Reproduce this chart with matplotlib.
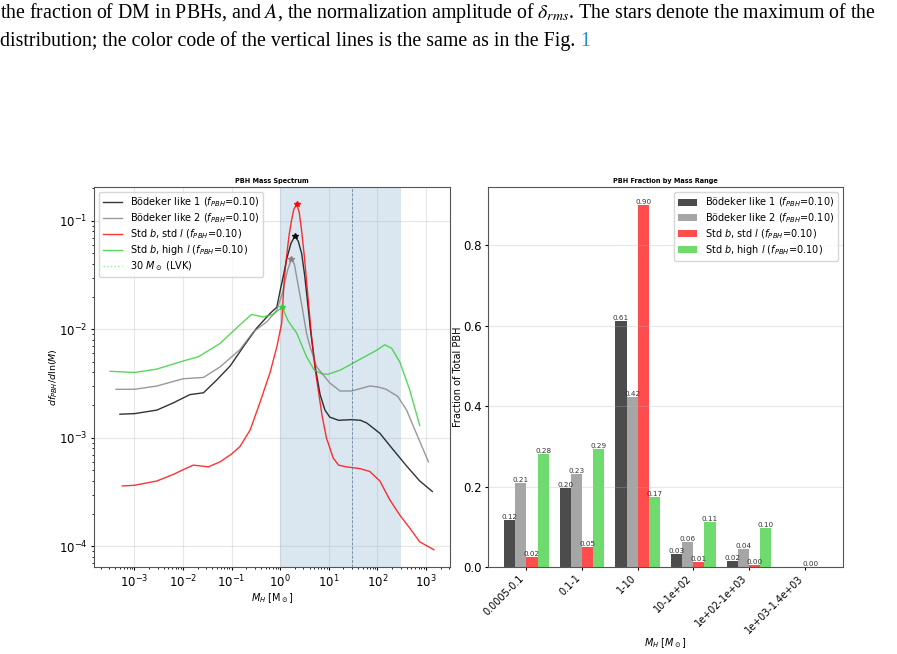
import numpy as np
import matplotlib
matplotlib.use("Agg")
import matplotlib.pyplot as plt
from matplotlib.lines import Line2D

# ---- left panel: mass spectra (log10 M, df/dlnM) ----
b1_logm = [-3.30, -3.0, -2.54, -2.2, -1.86, -1.58, -1.31, -1.03, -0.76, -0.49, -0.21, -0.07, 0.0, 0.07, 0.13, 0.22, 0.30,
           0.37, 0.44, 0.50, 0.55, 0.62, 0.72, 0.82, 0.92, 1.02, 1.2, 1.47, 1.65, 1.78, 2.05, 2.32, 2.6, 2.87, 3.13]
b1_val = [1.65e-3, 1.67e-3, 1.8e-3, 2.1e-3, 2.5e-3, 2.6e-3, 3.4e-3, 4.6e-3, 6.9e-3, 1.02e-2, 1.4e-2, 1.6e-2, 2.3e-2, 3.2e-2, 4.4e-2, 6.2e-2, 7.2e-2,
          6.5e-2, 5.0e-2, 3.2e-2, 2.0e-2, 1.0e-2, 4.5e-3, 2.5e-3, 1.8e-3, 1.55e-3, 1.45e-3, 1.47e-3, 1.45e-3, 1.37e-3, 1.1e-3, 7.8e-4, 5.5e-4, 4.0e-4, 3.2e-4]

b2_logm = [-3.38, -3.0, -2.54, -2.0, -1.58, -1.24, -0.83, -0.55, -0.27, -0.07, 0.05, 0.15, 0.226,
           0.29, 0.34, 0.45, 0.54, 0.61, 0.75, 1.02, 1.23, 1.47, 1.84, 2.0, 2.18, 2.42, 2.6, 2.8, 3.05]
b2_val = [2.8e-3, 2.8e-3, 3.0e-3, 3.5e-3, 3.6e-3, 4.5e-3, 6.5e-3, 9.5e-3, 1.18e-2, 1.5e-2, 2.2e-2, 3.5e-2, 4.4e-2,
          4.0e-2, 3.0e-2, 1.6e-2, 9.2e-3, 7.0e-3, 4.5e-3, 3.2e-3, 2.7e-3, 2.7e-3, 3.0e-3, 2.95e-3, 2.8e-3, 2.4e-3, 1.8e-3, 1.1e-3, 6.0e-4]

std_logm = [-3.25, -3.0, -2.54, -2.2, -1.99, -1.79, -1.48, -1.24, -1.0, -0.83, -0.62, -0.42, -0.21, -0.07, 0.03, 0.08, 0.13, 0.18, 0.23, 0.28, 0.337,
            0.39, 0.44, 0.50, 0.55, 0.645, 0.72, 0.78, 0.86, 0.95, 1.09, 1.2, 1.36, 1.5, 1.64, 1.84, 2.05, 2.25, 2.46, 2.66, 2.87, 3.16]
std_val = [3.6e-4, 3.65e-4, 4.0e-4, 4.6e-4, 5.1e-4, 5.6e-4, 5.4e-4, 6.0e-4, 7.1e-4, 8.3e-4, 1.18e-3, 2.1e-3, 4.0e-3, 6.9e-3, 1.14e-2, 2.8e-2, 4.7e-2, 7.3e-2, 0.10, 0.128, 0.142,
           0.12, 8.1e-2, 4.5e-2, 2.5e-2, 8.5e-3, 4.2e-3, 2.8e-3, 1.6e-3, 1.0e-3, 6.5e-4, 5.6e-4, 5.4e-4, 5.3e-4, 5.2e-4, 4.9e-4, 4.0e-4, 2.7e-4, 1.94e-4, 1.48e-4, 1.1e-4, 9.3e-5]

hil_logm = [-3.5, -3.0, -2.54, -2.0, -1.68, -1.24, -0.83, -0.59, -0.35, -0.14, 0.04, 0.16, 0.34, 0.54, 0.7, 0.85, 0.98,
            1.23, 1.47, 1.71, 1.98, 2.15, 2.29, 2.46, 2.66, 2.87]
hil_val = [4.1e-3, 4.0e-3, 4.3e-3, 5.1e-3, 5.6e-3, 7.4e-3, 1.1e-2, 1.37e-2, 1.3e-2, 1.38e-2, 1.6e-2, 1.2e-2, 9.2e-3, 5.6e-3, 4.2e-3, 3.9e-3, 3.85e-3,
           4.2e-3, 4.8e-3, 5.5e-3, 6.4e-3, 7.2e-3, 6.7e-3, 5.0e-3, 2.8e-3, 1.3e-3]

# ---- right panel: fraction per mass bin ----
mass_bins = ["0.0005-0.1", "0.1-1", "1-10", "10-1e+02", "1e+02-1e+03", "1e+03-1.4e+03"]
frac_b1 = [0.118, 0.196, 0.613, 0.032, 0.016, 0.0]
frac_b2 = [0.208, 0.231, 0.423, 0.062, 0.045, 0.0]
frac_std = [0.024, 0.049, 0.900, 0.012, 0.004, 0.0004]
frac_hil = [0.282, 0.293, 0.173, 0.112, 0.098, 0.0]

names = [r"Bödeker like 1 ($f_{PBH}$=0.10)", r"Bödeker like 2 ($f_{PBH}$=0.10)",
         r"Std $b$, std $l$ ($f_{PBH}$=0.10)", r"Std $b$, high $l$ ($f_{PBH}$=0.10)"]
colors = ["black", "gray", "red", "limegreen"]

W, H = 897, 654
fig = plt.figure(figsize=(W / 100, H / 100), dpi=100)

# caption text above the figure
line1 = (r"the fraction of DM in PBHs, and $A$, the normalization amplitude of $\delta_{rms}$."
         r" The stars denote the maximum of the")
line2 = "distribution; the color code of the vertical lines is the same as in the Fig. "
fs_cap = 14.3
fig.text(0.0, 1 - 18 / H, line1, fontsize=fs_cap, family="Liberation Serif", math_fontfamily="stix", va="baseline")
t2 = fig.text(0.0, 1 - 46 / H, line2, fontsize=fs_cap, family="Liberation Serif", va="baseline")
fig.canvas.draw()
bb = t2.get_window_extent(fig.canvas.get_renderer())
fig.text(bb.x1 / W, 1 - 46 / H, "1", fontsize=fs_cap, family="Liberation Serif", va="baseline", color="#1f8dd6")

# ---- left axes ----
ax1 = fig.add_axes([94 / W, 1 - 567 / H, 356 / W, 380 / H])
series = [(b1_logm, b1_val), (b2_logm, b2_val), (std_logm, std_val), (hil_logm, hil_val)]
for (lm, v), c, n in zip(series, colors, names):
    m = np.power(10.0, lm)
    v = np.array(v)
    ax1.plot(m, v, color=c, alpha=0.8, lw=1.0, label=n)
    i = np.argmax(v)
    ax1.plot(m[i], v[i], marker="*", color=c, ms=4, alpha=0.9)
ax1.set_xscale("log"); ax1.set_yscale("log")
ax1.axvspan(1, 300, color="steelblue", alpha=0.2, lw=0)
ax1.axvline(30, color="#4f6f8a", ls="--", lw=0.6, alpha=0.8)
handles, labels = ax1.get_legend_handles_labels()
handles.append(Line2D([], [], color="lightgreen", ls=":", lw=1.0))
labels.append(r"30 $M_\odot$ (LVK)")
ax1.legend(handles, labels, loc="upper left", fontsize=7, labelspacing=0.22)
ax1.grid(True, alpha=0.3)
ax1.set_title("PBH Mass Spectrum", fontsize=4.7, fontweight="bold", pad=3)
ax1.set_xlabel(r"$M_H$ [M$_\odot$]", fontsize=7, labelpad=1)
ax1.set_ylabel(r"$df_{PBH}/d\ln(M)$", fontsize=6.8, labelpad=-1)
ax1.tick_params(labelsize=8.5, length=2.5, pad=2)
ax1.tick_params(which="minor", length=1.5)

# ---- right axes ----
ax2 = fig.add_axes([488 / W, 1 - 567 / H, 355 / W, 380 / H])
x = np.arange(len(mass_bins))
w = 0.2
for k, (vals, c, n) in enumerate(zip([frac_b1, frac_b2, frac_std, frac_hil], colors, names)):
    pos = x + (k - 1.5) * w
    ax2.bar(pos, vals, w, color=c, alpha=0.7, label=n)
    for p, h in zip(pos, vals):
        if h > 0:
            ax2.text(p, h, f"{h:.2f}", ha="center", va="bottom", fontsize=5.2, color="#333333")
ax2.set_xticks(x)
ax2.set_xticklabels(mass_bins, rotation=45, ha="right", fontsize=7)
ax2.tick_params(axis="y", labelsize=8.5)
ax2.tick_params(length=2.5, pad=2)
ax2.set_ylabel("Fraction of Total PBH", fontsize=7, labelpad=0)
ax2.set_xlabel(r"$M_H$ [$M_\odot$]", fontsize=7, labelpad=1)
ax2.set_title("PBH Fraction by Mass Range", fontsize=4.7, fontweight="bold", pad=3)
ax2.legend(loc="upper right", fontsize=7, labelspacing=0.22)
ax2.grid(True, axis="y", alpha=0.3)

for a in (ax1, ax2):
    for s in a.spines.values():
        s.set_color("#555555")

fig.savefig("out.png", dpi=100)
